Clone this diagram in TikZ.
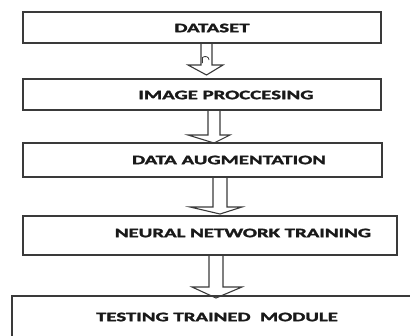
\documentclass[tikz,border=0pt]{standalone}
\usepackage{fontspec}
\setmainfont[BoldFeatures={FakeBold=1.6}]{Carlito}
\usetikzlibrary{calc}
\definecolor{edge}{HTML}{3A3A3A}
\newcommand{\stxt}[1]{\scalebox{1.6}[1]{\bfseries\fontsize{13}{13}\selectfont #1}}
\begin{document}
\begin{tikzpicture}[x=1pt,y=-1pt,
  boxst/.style={draw=edge,line width=1.2pt,inner sep=0pt},
  lbl/.style={inner sep=0pt,text=black!90},
  arr/.style={draw=edge,line width=1.1pt,line join=miter}]
\useasboundingbox (0,0) rectangle (410,335);
\begin{scope}
\clip (0,0) rectangle (410,335);
% boxes
\node[boxst,minimum width=358pt,minimum height=31pt] (b1) at (202,27.5) {};
\node[boxst,minimum width=358pt,minimum height=31pt] (b2) at (202,94.5) {};
\node[boxst,minimum width=359pt,minimum height=34pt] (b3) at (202.5,160) {};
\node[boxst,minimum width=374pt,minimum height=39pt] (b4) at (210,235.5) {};
\node[boxst,minimum width=410pt,minimum height=60pt] (b5) at (217,326) {};
% labels
\node[lbl] (t1) at (212,28) {\stxt{DATASET}};
\node[lbl] (t2) at (226,95) {\stxt{IMAGE PROCCESING}};
\node[lbl] (t3) at (229,160) {\stxt{DATA AUGMENTATION}};
\node[lbl] (t4) at (243,233) {\stxt{NEURAL NETWORK TRAINING}};
\node[lbl] (t5) at (217,317) {\stxt{TESTING TRAINED\ \ MODULE}};
% block arrows
\newcommand{\barrow}[8]{%
  \draw[arr] let \p1=(#1.south) in
    (#3,\y1) -- (#3,#6) -- (#5,#6) -- ({(#3+#4)/2},#7) -- (#8,#6) -- (#4,#6) -- (#4,\y1);}
\barrow{b1}{b2}{201}{212}{188}{65}{75}{223}
\barrow{b2}{b3}{208}{220}{188}{135}{143}{230}
\barrow{b3}{b4}{213}{227}{190}{207}{214}{242}
\barrow{b4}{b5}{209}{223}{192}{287}{298}{242}
% small mark inside first arrow
\draw[edge,line width=0.8pt] (202.5,63) -- (202.5,57.5) .. controls (205,55.5) and (209,56.5) .. (209,60);
\end{scope}
\end{tikzpicture}
\end{document}
